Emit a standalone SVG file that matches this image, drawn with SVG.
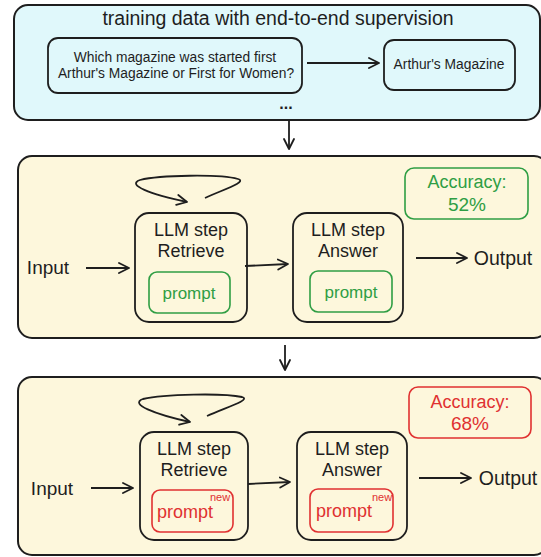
<svg xmlns="http://www.w3.org/2000/svg" width="541" height="557" viewBox="0 0 541 557">
<defs>
<style>
text{font-family:"Liberation Sans","DejaVu Sans",sans-serif;fill:#1e1e1e;text-anchor:middle}
.panel{stroke:#1e1e1e;stroke-width:2}
.box{fill:none;stroke:#1e1e1e;stroke-width:1.8}
.g{fill:none;stroke:#2f9e44;stroke-width:1.6}
.r{fill:none;stroke:#e03131;stroke-width:1.6}
.gt{fill:#2f9e44}
.rt{fill:#e03131}
.c{fill:none;stroke:#1e1e1e;stroke-width:1.8;marker-end:url(#ah)}
</style>
<marker id="ah" markerWidth="14" markerHeight="14" refX="11" refY="6" orient="auto" markerUnits="userSpaceOnUse">
<path d="M1,1 L11,6 L1,11" fill="none" stroke="#1e1e1e" stroke-width="1.8" stroke-linecap="round" stroke-linejoin="round"/>
</marker>
</defs>

<g id="panel-data">
<rect class="panel" x="14" y="5" width="526" height="115" rx="14" fill="#e0f8fb"/>
<text x="278" y="25" font-size="19.5">training data with end-to-end supervision</text>
<g id="question">
<rect class="box" x="48" y="38" width="254" height="55" rx="10"/>
<text x="175" y="62" font-size="13.8">Which magazine was started first</text>
<text x="176" y="78" font-size="13.8">Arthur's Magazine or First for Women?</text>
</g>
<g id="answer">
<rect class="box" x="384" y="40" width="131" height="50" rx="10"/>
<text x="449" y="69" font-size="13.8">Arthur's Magazine</text>
</g>
<text x="286" y="109" font-size="16" font-weight="bold">...</text>
</g>

<g id="panel-before">
<rect class="panel" x="18" y="156" width="530" height="182" rx="14" fill="#fdf7dc"/>
<text x="48" y="274" font-size="19">Input</text>
<text x="503" y="265" font-size="19.5">Output</text>
<g id="retrieve1">
<rect class="box" x="135" y="213" width="112" height="109" rx="14"/>
<text x="191" y="236" font-size="18">LLM step</text>
<text x="191" y="257" font-size="18">Retrieve</text>
<rect class="g" x="149" y="272" width="81" height="41" rx="8"/>
<text class="gt" x="189" y="299" font-size="17">prompt</text>
</g>
<g id="answer1">
<rect class="box" x="293" y="213" width="110" height="109" rx="14"/>
<text x="348" y="236" font-size="18">LLM step</text>
<text x="348" y="257" font-size="18">Answer</text>
<rect class="g" x="310" y="271" width="82" height="41" rx="8"/>
<text class="gt" x="351" y="298" font-size="17">prompt</text>
</g>
<g id="acc1">
<rect class="g" x="405" y="168" width="123" height="51" rx="9"/>
<text class="gt" x="467" y="188" font-size="18">Accuracy:</text>
<text class="gt" x="467" y="211" font-size="19">52%</text>
</g>
</g>

<g id="panel-after">
<rect class="panel" x="18" y="377" width="530" height="178" rx="14" fill="#fdf7dc"/>
<text x="52" y="495" font-size="19">Input</text>
<text x="508" y="485" font-size="19.5">Output</text>
<g id="retrieve2">
<rect class="box" x="140" y="432" width="108" height="108" rx="14"/>
<text x="194" y="455" font-size="18">LLM step</text>
<text x="194" y="476" font-size="18">Retrieve</text>
<rect class="r" x="152" y="490" width="81" height="42" rx="8"/>
<text class="rt" x="185" y="518" font-size="18">prompt</text>
<text class="rt" x="220" y="501" font-size="11">new</text>
</g>
<g id="answer2">
<rect class="box" x="297" y="432" width="110" height="108" rx="14"/>
<text x="352" y="455" font-size="18">LLM step</text>
<text x="352" y="476" font-size="18">Answer</text>
<rect class="r" x="310" y="489" width="83" height="43" rx="8"/>
<text class="rt" x="344" y="517" font-size="18">prompt</text>
<text class="rt" x="382" y="501" font-size="11">new</text>
</g>
<g id="acc2">
<rect class="r" x="409" y="387" width="122" height="51" rx="9"/>
<text class="rt" x="470" y="408" font-size="18">Accuracy:</text>
<text class="rt" x="470" y="430" font-size="19">68%</text>
</g>
</g>

<g id="connectors">
<path class="c" d="M307,63 L379,63"/>
<path class="c" d="M289,121 L289,149"/>
<path class="c" d="M285,345 L285,370"/>
<path class="c" d="M86,268 L129,268"/>
<path class="c" d="M245,266 L288,264"/>
<path class="c" d="M416,258 L467,258"/>
<path class="c" d="M205,198 C222,190 248,182 238,179 C220,174 160,175 140,180 C126,185 150,194 187,202"/>
<path class="c" d="M91,488 L133,488"/>
<path class="c" d="M248,484 L290,482"/>
<path class="c" d="M419,478 L471,478"/>
<path class="c" d="M207,416 C224,408 252,400 242,397 C224,393 164,394 143,399 C129,404 154,414 190,422"/>
</g>
</svg>
